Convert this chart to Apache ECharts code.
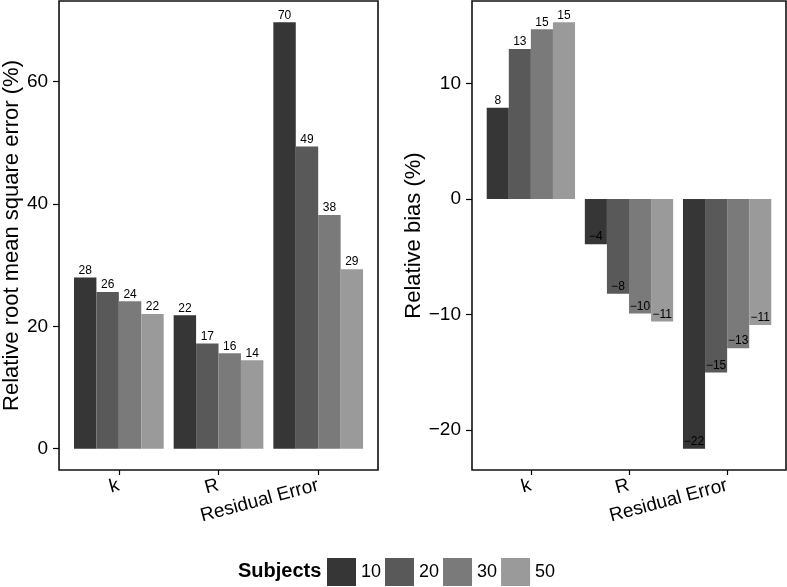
<!DOCTYPE html>
<html>
<head>
<meta charset="utf-8">
<script src="https://cdn.jsdelivr.net/npm/echarts@6/dist/echarts.min.js"></script>
<style>html,body{margin:0;padding:0;background:#fff;}#c{width:787px;height:587px;}</style>
</head>
<body>
<div id="c"></div>
<script>
const categories = ['k', 'R', 'Residual Error'];
const subjects = ['10', '20', '30', '50'];
const colors = ['#363636', '#595959', '#7a7a7a', '#9a9a9a'];
// Relative RMSE (%) per subject group, across categories k, R, Residual Error
const rmse10 = [28.0, 21.8, 69.7];
const rmse20 = [25.6, 17.2, 49.4];
const rmse30 = [24.1, 15.6, 38.2];
const rmse50 = [22.0, 14.45, 29.35];
// Relative bias (%)
const bias10 = [7.9, -3.9, -21.6];
const bias20 = [13.0, -8.2, -15.0];
const bias30 = [14.7, -9.9, -12.9];
const bias50 = [15.3, -10.6, -10.9];
const rmseTicks = [0, 20, 40, 60];
const biasTicks = [-20, -10, 0, 10];

const rmseSets = [rmse10, rmse20, rmse30, rmse50];
const biasSets = [bias10, bias20, bias30, bias50];
const FONT = '"Liberation Sans", Arial, sans-serif';

function fmt(v) {
  const r = Math.round(v);
  return r < 0 ? '\u2212' + Math.abs(r) : String(r);
}
function makeData(vals) {
  return vals.map((v, i) => ({
    value: [i + 1, v],
    label: v >= 0 ? { position: 'top', distance: 1 } : { position: 'insideBottom', distance: 1 }
  }));
}
function makeSeries(sets, axisIdx) {
  return sets.map((vals, s) => ({
    type: 'bar',
    name: subjects[s],
    xAxisIndex: axisIdx,
    yAxisIndex: axisIdx,
    barGap: '0%',
    barCategoryGap: '10%',
    itemStyle: { color: colors[s] },
    label: {
      show: true,
      fontFamily: FONT,
      fontSize: 12,
      color: '#000',
      formatter: p => fmt(p.value[1])
    },
    emphasis: { disabled: true },
    data: makeData(vals)
  }));
}
function xAxis(gridIndex) {
  return {
    type: 'value', gridIndex, min: 0.4, max: 3.6,
    splitLine: { show: false },
    axisLine: { show: false, onZero: false },
    axisTick: { show: true, length: 5, customValues: [1, 2, 3], lineStyle: { color: '#000', width: 1.2 } },
    axisLabel: {
      customValues: [1, 2, 3], rotate: 15, margin: 15,
      fontFamily: FONT, fontSize: 19, color: '#000',
      formatter: v => categories[Math.round(v) - 1] || ''
    }
  };
}
function yAxis(gridIndex, min, max, ticks, name, gap) {
  return {
    type: 'value', gridIndex, min, max,
    splitLine: { show: false },
    axisLine: { show: false, onZero: false },
    axisTick: { show: true, length: 6, customValues: ticks, lineStyle: { color: '#000', width: 1.2 } },
    axisLabel: {
      customValues: ticks, margin: 11,
      fontFamily: FONT, fontSize: 19, color: '#000',
      formatter: v => (v < 0 ? '\u2212' + Math.abs(v) : String(v))
    },
    name, nameLocation: 'middle', nameRotate: 90, nameGap: gap,
    nameTextStyle: { fontFamily: FONT, fontSize: 22, color: '#000' }
  };
}

const chart = echarts.init(document.getElementById('c'), null, { renderer: 'canvas' });
chart.setOption({
  animation: false,
  backgroundColor: '#fff',
  title: {
    text: 'Subjects', left: 238, top: 561, padding: 0,
    textStyle: { fontFamily: FONT, fontSize: 20, fontWeight: 'bold', color: '#000' }
  },
  legend: {
    data: subjects, left: 327, top: 558, padding: 0,
    itemWidth: 29, itemHeight: 28, itemGap: 4, icon: 'rect',
    textStyle: { fontFamily: FONT, fontSize: 18, color: '#000' },
    selectedMode: false
  },
  grid: [
    { left: 52, top: 1, width: 326, height: 469, show: true, borderColor: '#111', borderWidth: 1.6, backgroundColor: 'transparent' },
    { left: 472, top: 1, width: 314, height: 469, show: true, borderColor: '#111', borderWidth: 1.6, backgroundColor: 'transparent' }
  ],
  xAxis: [xAxis(0), xAxis(1)],
  yAxis: [
    yAxis(0, -3.485, 73.185, rmseTicks, 'Relative root mean square error (%)', 31),
    yAxis(1, -23.445, 17.145, biasTicks, 'Relative bias (%)', 43)
  ],
  series: makeSeries(rmseSets, 0).concat(makeSeries(biasSets, 1))
});
</script>
</body>
</html>
